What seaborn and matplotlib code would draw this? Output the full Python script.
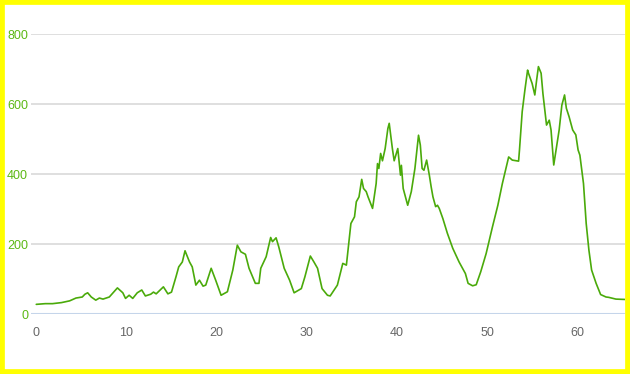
import matplotlib
matplotlib.use("Agg")
import matplotlib.pyplot as plt
import seaborn as sns
import pandas as pd
from matplotlib.patches import Rectangle

x_vals = [0.0, 1.0, 1.8, 2.8, 3.7, 4.4, 5.1, 5.4, 5.7, 6.1, 6.6, 7.0, 7.4, 8.1,
          9.0, 9.6, 9.9, 10.3, 10.7, 11.2, 11.7, 12.1, 12.7, 13.0, 13.3, 14.1,
          14.6, 15.0, 15.5, 15.8, 16.2, 16.5, 17.0, 17.3, 17.7, 18.1, 18.5, 18.8,
          19.4, 19.9, 20.5, 21.2, 21.8, 22.3, 22.7, 23.2, 23.6, 24.3, 24.7, 24.9,
          25.5, 26.0, 26.2, 26.6, 26.9, 27.5, 28.1, 28.6, 29.4, 29.8, 30.4, 30.8,
          31.2, 31.7, 32.3, 32.6, 33.4, 34.0, 34.4, 34.9, 35.3, 35.5, 35.8, 36.1,
          36.3, 36.6, 36.8, 37.3, 37.7, 37.85, 38.0, 38.2, 38.4, 38.7, 39.0, 39.15,
          39.5, 39.7, 40.1, 40.4, 40.5, 40.7, 41.2, 41.6, 42.0, 42.4, 42.6, 42.8,
          43.0, 43.3, 43.6, 43.8, 44.0, 44.3, 44.5, 44.7, 45.1, 45.6, 46.2, 46.9,
          47.6, 47.9, 48.4, 48.8, 49.3, 49.9, 50.6, 51.2, 51.7, 52.4, 52.8, 53.5,
          53.6, 53.9, 54.2, 54.5, 54.6, 55.0, 55.3, 55.5, 55.7, 56.0, 56.2, 56.6,
          56.9, 57.1, 57.4, 57.6, 58.0, 58.3, 58.6, 58.8, 59.1, 59.5, 59.85, 60.1,
          60.3, 60.7, 61.0, 61.3, 61.6, 62.1, 62.6, 63.2, 63.5, 64.3, 65.3]
y_vals = [28, 30, 30, 33, 38, 46, 49, 57, 61, 49, 40, 46, 43, 49,
          75, 61, 45, 54, 45, 61, 69, 52, 57, 63, 58, 78,
          58, 63, 107, 135, 149, 181, 149, 135, 83, 97, 80, 83,
          131, 97, 54, 64, 126, 197, 178, 171, 131, 88, 88, 131,
          164, 219, 207, 218, 192, 131, 97, 61, 73, 107, 166, 149,
          131, 73, 54, 52, 83, 145, 140, 259, 278, 321, 335, 385,
          359, 350, 335, 302, 373, 430, 416, 459, 438, 473, 530, 545,
          473, 438, 473, 397, 425, 359, 311, 350, 416, 511, 483, 416,
          411, 440, 397, 364, 335, 307, 311, 302, 273, 231, 188, 149,
          116, 88, 81, 84, 121, 173, 249, 311, 373, 449, 440, 437,
          469, 578, 640, 697, 688, 659, 626, 668, 707, 688, 630, 540,
          554, 526, 426, 459, 526, 597, 626, 588, 564, 526, 512, 469,
          454, 373, 259, 183, 126, 88, 56, 49, 48, 43, 42]
y_ticks = [0, 200, 400, 600, 800]
x_ticks = [0, 10, 20, 30, 40, 50, 60]

df = pd.DataFrame({"x": x_vals, "y": y_vals})

sns.set_theme(style="white")
plt.rcParams['font.family'] = ['Liberation Sans Narrow', 'Liberation Sans', 'DejaVu Sans']

fig = plt.figure(figsize=(6.3, 3.74), dpi=100)
ax = fig.add_axes([0.049, 0.160, 0.943, 0.749])

sns.lineplot(data=df, x="x", y="y", ax=ax, color="#4aaa0a", linewidth=1.2)

ax.set_xlim(-0.6, 65.3)
ax.set_ylim(0, 800)
ax.set_yticks(y_ticks)
ax.set_xticks(x_ticks)
ax.set_xlabel("")
ax.set_ylabel("")
for yt in y_ticks[1:]:
    ax.axhline(yt, color="#dcdcdc", linewidth=1.3, zorder=0)
ax.axhline(0, color="#c5d5ea", linewidth=1.5, zorder=0)
for s in ax.spines.values():
    s.set_visible(False)
ax.tick_params(axis="y", labelsize=9, length=0, pad=2)
ax.tick_params(axis="x", labelsize=9, length=0, pad=9)
for lab in ax.get_yticklabels():
    lab.set_color("#5cb814")
for lab in ax.get_xticklabels():
    lab.set_color("#666666")

fig.patches.append(Rectangle((0, 0), 1, 1, transform=fig.transFigure,
                             fill=False, edgecolor="#ffff00", linewidth=7, zorder=10))

fig.savefig("out.png", dpi=100)
